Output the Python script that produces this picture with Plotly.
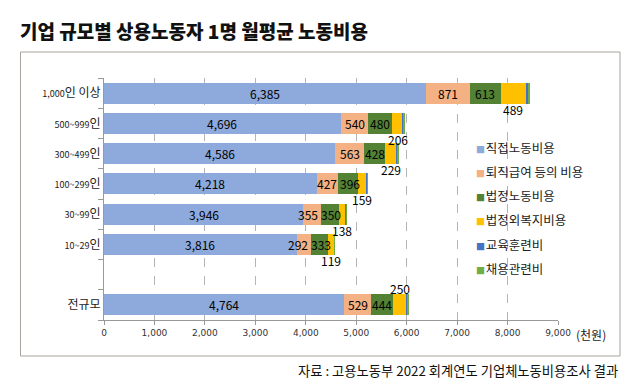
import re
import plotly.graph_objects as go

# ---------------- data ----------------
categories = ["1,000인 이상", "500~999인", "300~499인", "100~299인",
              "30~99인", "10~29인", " ", "전규모"]
series_names = ["직접노동비용", "퇴직급여 등의 비용", "법정노동비용",
                "법정외복지비용", "교육훈련비", "채용관련비"]
direct = [6385, 4696, 4586, 4218, 3946, 3816, None, 4764]
retire = [871, 540, 563, 427, 355, 292, None, 529]
legal = [613, 480, 428, 396, 350, 333, None, 444]
welfare = [489, 206, 229, 159, 138, 119, None, 250]
training = [58, 22, 20, 14, 12, 6, None, 30]
recruit = [14, 9, 8, 7, 6, 5, None, 10]
x_ticks = [0, 1000, 2000, 3000, 4000, 5000, 6000, 7000, 8000, 9000]

title_text = "기업 규모별 상용노동자 1명 월평균 노동비용"
source_text = "자료 : 고용노동부 2022 회계연도 기업체노동비용조사 결과"
unit_text = "(천원)"

# ---------------- style ----------------
colors = ["#8EA9DB", "#F4B183", "#548235", "#FFC000", "#4472C4", "#70AD47"]
series = [direct, retire, legal, welfare, training, recruit]
KR = "Noto Sans CJK KR"
XMAX = 9000

W, H = 640, 391
L, R, T, B = 104, 82, 78, 71
pw, ph = W - L - R, H - T - B
PX_PER_UNIT = pw / XMAX
LABEL_SIZE = 12
DIGIT_W = 0.58 * LABEL_SIZE


def px_x(p):
    return (p - L) / pw


def px_y(p):
    return (H - B - p) / ph


def tick_label(c):
    m = re.match(r"^([\d,~]+)(.*)$", c)
    if not m:
        return c
    return "<span style='font-size:9px'>" + m.group(1) + "</span>" + m.group(2)


def legend_label(name, col):
    return ("<span style='color:" + col + ";font-size:9px'>■</span>"
            "<span style='font-size:3px'> </span>" + name)


def text_w(s):
    return sum(DIGIT_W if ch.isdigit() else DIGIT_W * 0.45 for ch in s)


fig = go.Figure()
for name, vals, col in zip(series_names, series, colors):
    fig.add_trace(go.Bar(
        y=categories, x=vals, name=name, orientation="h",
        marker=dict(color=col, line=dict(width=0)),
        showlegend=False, hoverinfo="skip",
    ))

# legend entries (symbol drawn in text, marker hidden)
for name, col in zip(series_names, colors):
    fig.add_trace(go.Scatter(
        x=[None], y=[None], mode="markers", name=legend_label(name, col),
        legendgroup=name,
        marker=dict(symbol="square", size=1, color="rgba(0,0,0,0)"),
        showlegend=True,
    ))

# data labels
annotations = []
for ci, cat in enumerate(categories):
    if direct[ci] is None:
        continue
    mids, texts = [], []
    for si in range(4):
        v = series[si][ci]
        start = sum(series[k][ci] for k in range(si))
        mids.append(start + v / 2)
        texts.append(f"{v:,}")
    xshifts = [0, 0, 0, 0]
    # keep the two small inside labels from colliding
    gap_px = (mids[2] - mids[1]) * PX_PER_UNIT
    need = (text_w(texts[1]) + text_w(texts[2])) / 2 + 2
    if gap_px < need:
        d = need - gap_px
        xshifts[1] = -(d - 1.5)
        xshifts[2] = 1.5
    for si in range(4):
        yshift = 0
        if si == 3:
            yshift = 16 if cat == "전규모" else -16
        annotations.append(dict(
            x=mids[si], y=cat, xref="x", yref="y", text=texts[si],
            showarrow=False, xshift=xshifts[si], yshift=yshift,
            font=dict(family=KR, size=LABEL_SIZE, color="#000"),
        ))

annotations.append(dict(
    x=px_x(574), y=px_y(334), xref="paper", yref="paper", text=unit_text,
    showarrow=False, xanchor="left", yanchor="middle",
    font=dict(family=KR, size=12, color="#222"),
))
annotations.append(dict(
    x=px_x(620), y=px_y(370), xref="paper", yref="paper", text=source_text,
    showarrow=False, xanchor="right", yanchor="middle",
    font=dict(family=KR, size=13.3, color="#111"),
))

fig.update_layout(
    width=W, height=H,
    margin=dict(l=L, r=R, t=T, b=B),
    barmode="stack", bargap=0.3,
    plot_bgcolor="white", paper_bgcolor="white",
    font=dict(family=KR, color="#222"),
    title=dict(
        text=title_text, x=20 / W, xanchor="left", xref="container",
        y=1 - 32 / H, yanchor="middle", yref="container",
        font=dict(family=KR, size=19, color="#111", weight=900),
    ),
    legend=dict(
        x=px_x(436), y=px_y(133), xanchor="left", yanchor="top",
        itemwidth=30, tracegroupgap=5, traceorder="grouped",
        bgcolor="rgba(0,0,0,0)",
        font=dict(family=KR, size=12.5, color="#222"),
    ),
    annotations=annotations,
    shapes=[dict(
        type="rect", xref="paper", yref="paper",
        x0=px_x(20.5), x1=px_x(620), y0=px_y(356), y1=px_y(52),
        line=dict(color="#a8a39c", width=1), fillcolor="rgba(0,0,0,0)",
        layer="below",
    )],
)

fig.update_xaxes(
    range=[0, XMAX], tickvals=x_ticks, tickformat=",d",
    showgrid=True, gridcolor="#b4b4b4", griddash="dash", gridwidth=1,
    showline=True, linecolor="#999", linewidth=1,
    ticks="outside", ticklen=4, tickcolor="#999",
    tickfont=dict(family="DejaVu Sans", size=9, color="#333"),
    zeroline=False,
)
fig.update_yaxes(
    type="category", categoryorder="array", categoryarray=categories,
    range=[len(categories) - 0.5, -0.5], autorange=False,
    tickvals=categories, ticktext=[tick_label(c) for c in categories],
    showline=True, linecolor="#999", linewidth=1,
    ticks="outside", tickson="boundaries", ticklen=5, tickcolor="#999",
    tickfont=dict(family=KR, size=12, color="#222"),
    showgrid=False,
)

fig.write_html("out.html", config={"displayModeBar": False},
               post_script="document.body.style.margin='0';")
